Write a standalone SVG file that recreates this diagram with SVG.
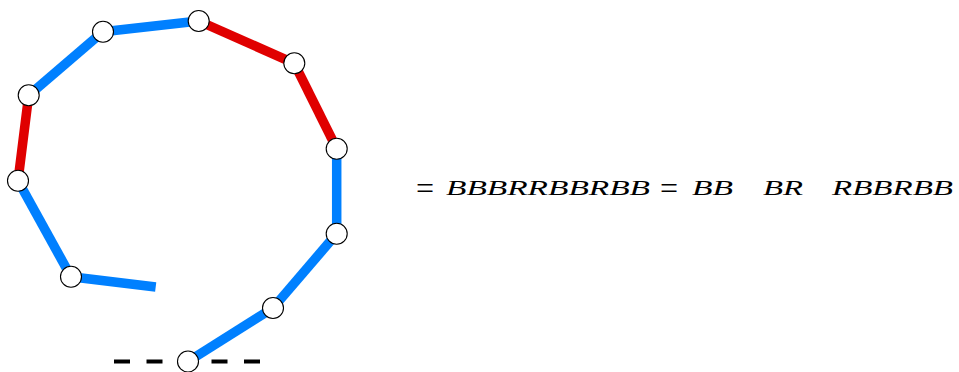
<svg xmlns="http://www.w3.org/2000/svg" width="959" height="372" viewBox="0 0 959 372">
<style>
.b{stroke:#0080ff;stroke-width:9.5;fill:none}
.r{stroke:#e00000;stroke-width:9.5;fill:none}
.n{fill:#fff;stroke:#000;stroke-width:1.1}
.d{stroke:#000;stroke-width:4;stroke-dasharray:16 16.5;fill:none}
.m{font-family:"Liberation Serif",serif;font-style:italic;font-size:21.5px;fill:#000}
.eq{font-family:"Liberation Serif",serif;font-size:32px;fill:#000}
</style>
<rect width="959" height="372" fill="#fff"/>
<g id="connectors">
<line class="d" x1="114" y1="361.5" x2="262" y2="361.5"/>
<line class="b" x1="188" y1="361.5" x2="273" y2="308"/>
<line class="b" x1="273" y1="308" x2="336.7" y2="233.7"/>
<line class="b" x1="336.7" y1="233.7" x2="336.7" y2="148.7"/>
<line class="r" x1="336.7" y1="148.7" x2="294.3" y2="63.3"/>
<line class="r" x1="294.3" y1="63.3" x2="198.7" y2="21"/>
<line class="b" x1="198.7" y1="21" x2="103" y2="31.7"/>
<line class="b" x1="103" y1="31.7" x2="28.7" y2="95.3"/>
<line class="r" x1="28.7" y1="95.3" x2="18" y2="180.7"/>
<line class="b" x1="18" y1="180.7" x2="71" y2="276.7"/>
<line class="b" x1="71" y1="276.7" x2="155.7" y2="287"/>
</g>
<g id="n1"><circle class="n" cx="188" cy="361.5" r="10.5"/></g>
<g id="n2"><circle class="n" cx="273" cy="308" r="10.5"/></g>
<g id="n3"><circle class="n" cx="336.7" cy="233.7" r="10.5"/></g>
<g id="n4"><circle class="n" cx="336.7" cy="148.7" r="10.5"/></g>
<g id="n5"><circle class="n" cx="294.3" cy="63.3" r="10.5"/></g>
<g id="n6"><circle class="n" cx="198.7" cy="21" r="10.5"/></g>
<g id="n7"><circle class="n" cx="103" cy="31.7" r="10.5"/></g>
<g id="n8"><circle class="n" cx="28.7" cy="95.3" r="10.5"/></g>
<g id="n9"><circle class="n" cx="18" cy="180.7" r="10.5"/></g>
<g id="n10"><circle class="n" cx="71" cy="276.7" r="10.5"/></g>
<g id="formula">
<text class="eq" x="416" y="199">=</text>
<text class="m" x="446" y="195" textLength="204" lengthAdjust="spacingAndGlyphs">BBBRRBBRBB</text>
<text class="eq" x="660" y="199">=</text>
<text class="m" x="692" y="195" textLength="41" lengthAdjust="spacingAndGlyphs">BB</text>
<text class="m" x="763" y="195" textLength="40" lengthAdjust="spacingAndGlyphs">BR</text>
<text class="m" x="832" y="195" textLength="121" lengthAdjust="spacingAndGlyphs">RBBRBB</text>
</g>
</svg>
